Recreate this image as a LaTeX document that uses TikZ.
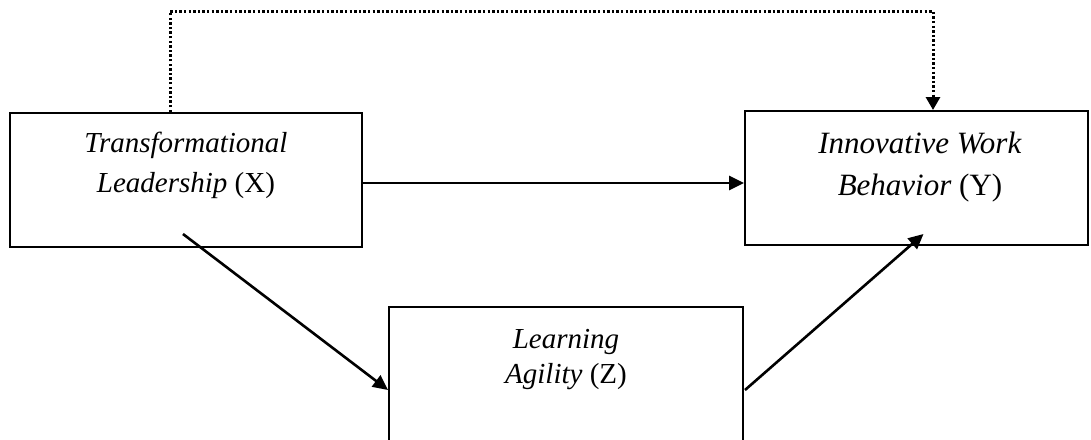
\documentclass[tikz,border=0pt]{standalone}
\usepackage{fontspec}
\setmainfont{Liberation Serif}
\usetikzlibrary{arrows.meta,calc}
\begin{document}
\begin{tikzpicture}[x=1pt,y=-1pt,
  box/.style={draw,line width=2pt,inner sep=0pt,rectangle},
  lbl/.style={align=center,inner sep=0pt},
  arr/.style={line width=2.6pt,-{Triangle[length=15pt,width=14pt]}},
  dotarr/.style={line width=3pt,dash pattern=on 2.4pt off 2.2pt,-{Triangle[length=13pt,width=14pt]}}]
\useasboundingbox (0,0) rectangle (1091,439);
\node[box,minimum width=352pt,minimum height=134pt] (X) at (186,180) {};
\node[box,minimum width=343pt,minimum height=134pt] (Y) at (916.5,178) {};
\node[box,minimum width=354pt,minimum height=166pt] (Z) at (566,390) {};
\node[lbl,anchor=base,font=\fontsize{29pt}{40pt}\selectfont] (Xt) at (186,192) {\textit{Transformational}\\\textit{Leadership} (X)};
\node[lbl,anchor=base,font=\fontsize{31pt}{42pt}\selectfont] (Yt) at (920,195) {\textit{Innovative Work}\\\textit{Behavior} (Y)};
\node[lbl,anchor=base,font=\fontsize{29pt}{35pt}\selectfont] (Zt) at (566,383) {\textit{Learning}\\\textit{Agility} (Z)};
\draw[arr] ([yshift=-3pt]X.east) -- ([yshift=-5pt]Y.west);
\draw[arr] ([shift={(-3,-14)}]X.south) -- (Z.west);
\draw[arr] ([xshift=1pt]Z.east) -- ([shift={(7,-12)}]Y.south);
\draw[dotarr] ([xshift=-16pt]X.north) -- ++(0,-101) -| ([xshift=16.5pt]Y.north);
\end{tikzpicture}
\end{document}
